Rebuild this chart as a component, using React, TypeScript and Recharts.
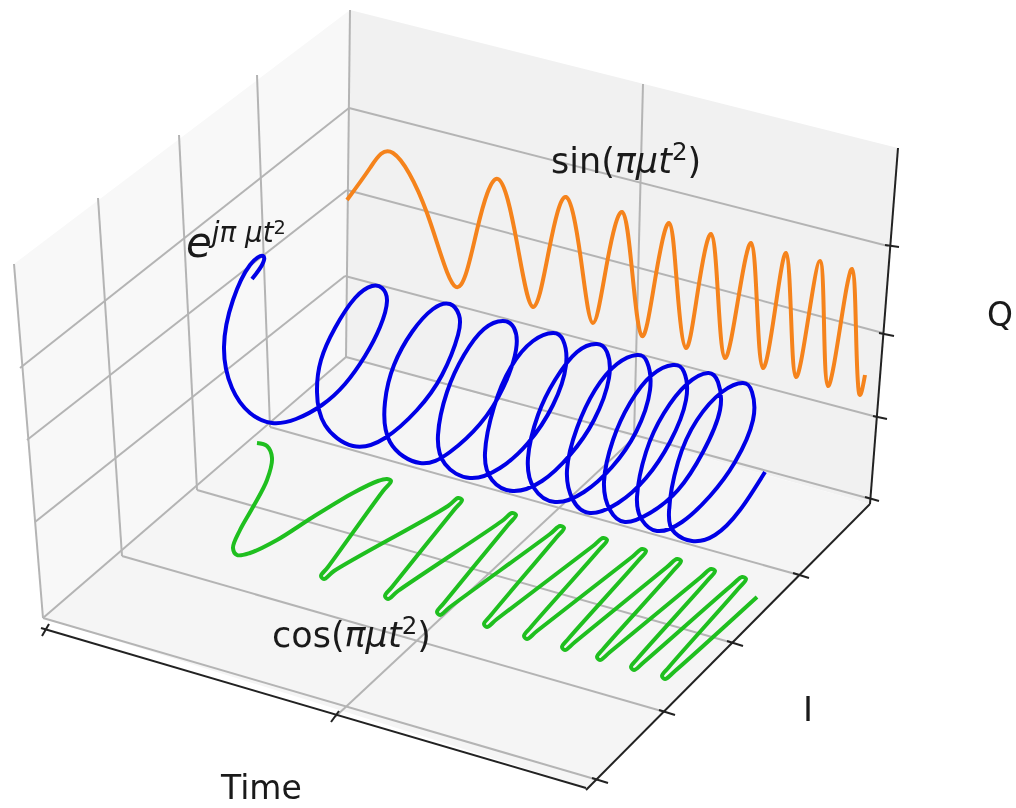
import React from "react";
import { Area, ComposedChart, Line, XAxis, YAxis } from "recharts";

type Pt = [number, number];

// the three curves, as projected on the page
const sinCurve: Pt[] = [
  [347, 200], [370, 168], [393, 153], [427, 213], [456, 287], [477, 230], [498, 179], [517, 243], [533, 307], [549, 250],
  [566, 197], [581, 260], [593, 323], [607, 263], [622, 212], [632, 270], [642, 336], [655, 280], [669, 223], [677, 285],
  [686, 348], [698, 290], [711, 234], [718, 295], [725, 358], [738, 300], [751, 243], [757, 305], [763, 368], [775, 310],
  [786, 253], [791, 315], [796, 377], [808, 320], [820, 261], [824, 323], [828, 386], [840, 328], [852, 269], [856, 331],
  [859, 393], [865, 375],
];

const expCurve: Pt[] = [
  [252, 279], [262, 265], [263, 256], [250, 265], [233, 300], [224, 347], [232, 388], [250, 413], [272, 423], [296, 419],
  [322, 405], [345, 384], [365, 356], [380, 327], [387, 301], [382, 288], [372, 286], [355, 298], [335, 328], [321, 360],
  [317, 392], [325, 425], [353, 446], [385, 438], [417, 410], [442, 375], [458, 335], [459, 315], [450, 304], [433, 309],
  [412, 332], [394, 365], [385, 402], [390, 442], [420, 463], [450, 452], [480, 424], [503, 388], [516, 350], [514, 328],
  [503, 321], [484, 329], [464, 355], [447, 392], [438, 435], [445, 464], [470, 478], [500, 468], [528, 443], [553, 405],
  [566, 365], [563, 340], [553, 333], [533, 341], [511, 367], [494, 407], [485, 453], [492, 480], [513, 491], [542, 481],
  [570, 455], [594, 420], [609, 378], [607, 352], [597, 344], [577, 352], [555, 380], [538, 415], [528, 458], [534, 488],
  [555, 502], [584, 492], [612, 467], [636, 432], [650, 390], [647, 362], [637, 355], [617, 364], [595, 390], [577, 428],
  [567, 470], [573, 500], [590, 513], [618, 503], [646, 478], [670, 442], [686, 400], [684, 372], [673, 365], [652, 375],
  [630, 403], [613, 440], [604, 482], [610, 510], [625, 522], [650, 513], [678, 490], [703, 452], [720, 410], [718, 382],
  [708, 373], [687, 384], [664, 413], [646, 452], [637, 497], [642, 520], [657, 531], [682, 522], [710, 496], [735, 462],
  [753, 420], [752, 392], [743, 383], [722, 392], [697, 420], [678, 462], [669, 512], [675, 533], [692, 541], [715, 535],
  [740, 510], [765, 472],
];

const cosCurve: Pt[] = [
  [257, 443], [267, 446], [272, 458], [267, 480], [253, 507], [240, 530], [233, 548], [237, 555], [250, 553], [277, 540],
  [313, 517], [353, 493], [378, 481], [387, 479], [391, 481], [383, 491], [328, 567], [321, 576], [324, 579], [334, 571],
  [448, 506], [458, 498], [462, 500], [454, 510], [392, 587], [385, 596], [388, 599], [398, 591], [502, 521], [512, 513],
  [516, 515], [508, 525], [444, 603], [437, 612], [440, 615], [450, 607], [550, 534], [560, 526], [564, 528], [556, 538],
  [491, 615], [484, 624], [487, 627], [497, 619], [593, 546], [603, 538], [607, 540], [599, 550], [531, 627], [524, 636],
  [527, 639], [537, 631], [632, 557], [642, 549], [646, 551], [638, 561], [569, 638], [562, 647], [565, 650], [575, 642],
  [667, 567], [677, 559], [681, 561], [673, 571], [604, 648], [597, 657], [600, 660], [610, 652], [701, 577], [711, 569],
  [715, 571], [707, 581], [638, 658], [631, 667], [634, 670], [644, 662], [732, 585], [742, 577], [746, 579], [738, 589],
  [669, 667], [662, 676], [665, 679], [675, 671], [757, 597],
];

// panes: x with the upper and lower edge at that x
const leftWall: [number, number, number][] = [[14, 264, 264], [43, 242, 618], [346, 13, 357], [350, 10, 10]];
const backWall: [number, number, number][] = [[346, 357, 357], [350, 10, 358], [870, 141, 504], [898, 148, 148]];
const floorPane: [number, number, number][] = [[43, 618, 618], [346, 357, 712], [588, 425, 788], [870, 504, 504]];

const gridLines: Pt[][] = [
  [[14, 264], [43, 618]],
  [[98, 198], [122, 556]],
  [[179, 135], [197, 490]],
  [[257, 75], [270, 427]],
  [[350, 10], [346, 357]],
  [[643, 84], [634, 438]],
  [[349, 108], [20, 368]],
  [[347, 190], [27, 440]],
  [[345, 276], [35, 522]],
  [[349, 108], [888, 246]],
  [[347, 190], [883, 333]],
  [[345, 276], [877, 417]],
  [[346, 357], [871, 499]],
  [[43, 618], [598, 780]],
  [[122, 556], [665, 712]],
  [[197, 490], [733, 643]],
  [[270, 427], [799, 575]],
  [[346, 357], [43, 618]],
  [[634, 438], [335, 717]],
];

const axisLines: Pt[][] = [
  [[41, 628], [586, 788]],
  [[586, 790], [870, 504]],
  [[870, 504], [898, 148]],
  [[49, 624], [42, 636]],
  [[339, 711], [331, 722]],
  [[592, 778], [608, 783]],
  [[659, 710], [675, 715]],
  [[727, 641], [743, 646]],
  [[793, 573], [809, 578]],
  [[865, 497], [879, 501]],
  [[873, 416], [887, 419]],
  [[879, 333], [894, 336]],
  [[885, 245], [899, 247]],
];

const toPoints = (pts: Pt[]) => pts.map(([x, y]) => ({ x, y }));
const toBand = (rows: [number, number, number][]) => rows.map(([x, a, b]) => ({ x, band: [a, b] }));

// centripetal catmull-rom, natural overshoots badly on the green spikes
function catmullCurve(context: any) {
  let pts: Pt[] = [];
  return {
    areaStart() {},
    areaEnd() {},
    lineStart() {
      pts = [];
    },
    point(x: number, y: number) {
      pts.push([+x, +y]);
    },
    lineEnd() {
      if (!pts.length) return;
      context.moveTo(pts[0][0], pts[0][1]);
      for (let i = 0; i < pts.length - 1; i++) {
        const p0 = pts[Math.max(i - 1, 0)];
        const p1 = pts[i];
        const p2 = pts[i + 1];
        const p3 = pts[Math.min(i + 2, pts.length - 1)];
        const d01 = Math.hypot(p1[0] - p0[0], p1[1] - p0[1]);
        const d12 = Math.hypot(p2[0] - p1[0], p2[1] - p1[1]);
        const d23 = Math.hypot(p3[0] - p2[0], p3[1] - p2[1]);
        const a01 = Math.sqrt(d01);
        const a12 = Math.sqrt(d12);
        const a23 = Math.sqrt(d23);
        let c1: Pt = p1;
        let c2: Pt = p2;
        if (a01 > 1e-6) {
          const a = 2 * d01 + 3 * a01 * a12 + d12;
          const n = 3 * a01 * (a01 + a12);
          c1 = [(p1[0] * a - p0[0] * d12 + p2[0] * d01) / n, (p1[1] * a - p0[1] * d12 + p2[1] * d01) / n];
        }
        if (a23 > 1e-6) {
          const b = 2 * d23 + 3 * a23 * a12 + d12;
          const m = 3 * a23 * (a23 + a12);
          c2 = [(p2[0] * b + p1[0] * d23 - p3[0] * d12) / m, (p2[1] * b + p1[1] * d23 - p3[1] * d12) / m];
        }
        context.bezierCurveTo(c1[0], c1[1], c2[0], c2[1], p2[0], p2[1]);
      }
    },
  };
}

const label = (left: number, top: number, size: number): React.CSSProperties => ({
  position: "absolute",
  left,
  top,
  fontSize: size,
  lineHeight: 1,
  whiteSpace: "nowrap",
  color: "#1a1a1a",
});

const sup: React.CSSProperties = { fontSize: "0.7em", verticalAlign: "0.55em", lineHeight: 0 };

export default function App() {
  return (
    <div
      style={{
        position: "absolute",
        left: 0,
        top: 0,
        width: 1016,
        height: 808,
        fontFamily: "'DejaVu Sans', sans-serif",
        overflow: "hidden",
        filter: "blur(0.5px)",
      }}
    >
      <ComposedChart width={1016} height={808} margin={{ top: 0, right: 0, bottom: 0, left: 0 }}>
        <XAxis type="number" dataKey="x" domain={[0, 1016]} hide allowDataOverflow />
        <YAxis type="number" domain={[0, 808]} reversed hide allowDataOverflow />
        <Area data={toBand(leftWall)} dataKey="band" type="linear" fill="#f8f8f8" fillOpacity={1} stroke="none" dot={false} activeDot={false} isAnimationActive={false} />
        <Area data={toBand(backWall)} dataKey="band" type="linear" fill="#f1f1f1" fillOpacity={1} stroke="none" dot={false} activeDot={false} isAnimationActive={false} />
        <Area data={toBand(floorPane)} dataKey="band" type="linear" fill="#f5f5f5" fillOpacity={1} stroke="none" dot={false} activeDot={false} isAnimationActive={false} />
        {gridLines.map((seg, i) => (
          <Line key={`g${i}`} data={toPoints(seg)} dataKey="y" type="linear" dot={false} activeDot={false} stroke="#b4b4b4" strokeWidth={2} isAnimationActive={false} />
        ))}
        {axisLines.map((seg, i) => (
          <Line key={`a${i}`} data={toPoints(seg)} dataKey="y" type="linear" dot={false} activeDot={false} stroke="#222222" strokeWidth={2} isAnimationActive={false} />
        ))}
        <Line data={toPoints(sinCurve)} dataKey="y" type="natural" dot={false} activeDot={false} stroke="#f5831c" strokeWidth={4} isAnimationActive={false} />
        <Line data={toPoints(cosCurve)} dataKey="y" type={catmullCurve as any} dot={false} activeDot={false} stroke="#1fbf1f" strokeWidth={4} isAnimationActive={false} />
        <Line data={toPoints(expCurve)} dataKey="y" type="natural" dot={false} activeDot={false} stroke="#0000e6" strokeWidth={4} isAnimationActive={false} />
      </ComposedChart>
      <div style={label(551, 144, 35)}>
        sin(<i>πμt</i>
        <span style={sup}>2</span>)
      </div>
      <div style={label(272, 618, 35)}>
        cos(<i>πμt</i>
        <span style={sup}>2</span>)
      </div>
      <div style={label(186, 222, 42)}>
        <i>e</i>
        <span style={{ ...sup, fontSize: "0.66em" }}>
          <i>jπ μt</i>
          <span style={{ fontSize: "0.7em", verticalAlign: "0.4em" }}>2</span>
        </span>
      </div>
      <div style={{ ...label(221, 775, 33), lineHeight: 0.8 }}>Time</div>
      <div style={label(803, 692, 34)}>I</div>
      <div style={label(987, 298, 33)}>Q</div>
    </div>
  );
}
